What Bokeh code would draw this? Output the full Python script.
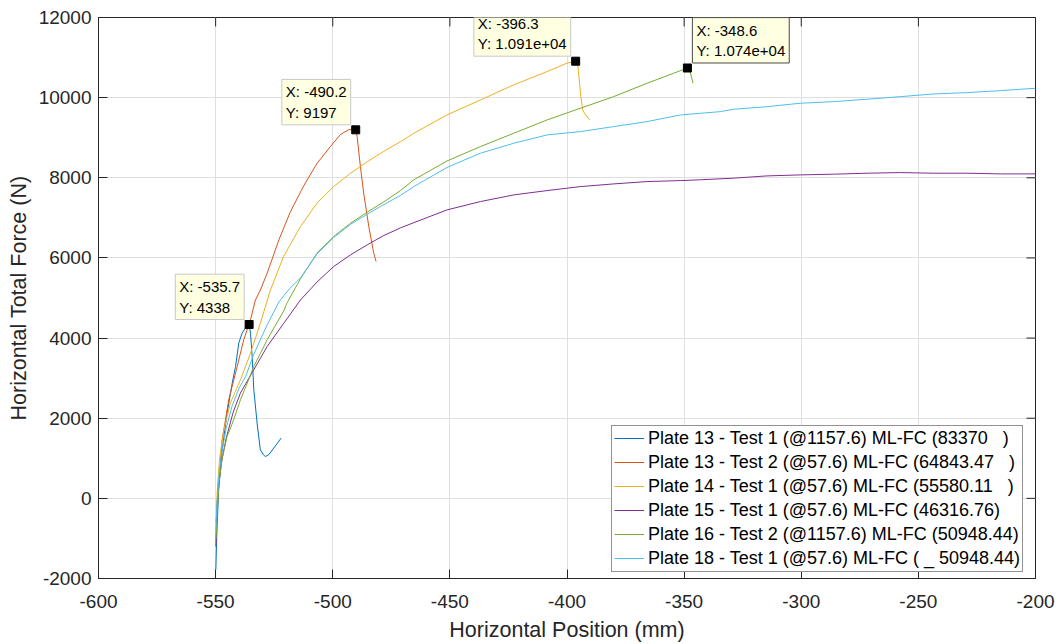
from bokeh.plotting import figure
from bokeh.models import Range1d, SingleIntervalTicker, Legend, LegendItem, Label
from bokeh.embed import file_html
from bokeh.resources import INLINE

FONT = "Liberation Sans"

# ---- data ----
series_names = [
    "Plate 13 - Test 1 (@1157.6) ML-FC (83370   )",
    "Plate 13 - Test 2 (@57.6) ML-FC (64843.47   )",
    "Plate 14 - Test 1 (@57.6) ML-FC (55580.11   )",
    "Plate 15 - Test 1 (@57.6) ML-FC (46316.76)",
    "Plate 16 - Test 2 (@1157.6) ML-FC (50948.44)",
    "Plate 18 - Test 1 (@57.6) ML-FC ( _ 50948.44)",
]
series_colors = ["#0072BD", "#D95319", "#EDB120", "#7E2F8E", "#77AC30", "#4DBEEE"]

p13t1_x = [-549.9, -549.6, -549.3, -548.7, -547.2, -545.1, -542.9, -541.5, -540.1, -538.7,
           -537.2, -535.7, -535.1, -534.4, -533.7, -532.3, -530.9, -529.5, -528.7, -527.3,
           -525.2, -522.0]
p13t1_y = [-1780, -1100, -610, 220, 1210, 2130, 2880, 3290, 3880, 4120,
           4260, 4338, 4120, 3540, 2710, 1880, 1210, 1080, 1045, 1090,
           1255, 1505]

p13t2_x = [-549.8, -549.3, -548.7, -547.2, -544.4, -540.8, -538.0, -535.1, -533.0, -530.9,
           -528.0, -523.0, -518.1, -512.4, -506.7, -501.0, -496.7, -493.2, -490.2, -489.6,
           -488.2, -486.8, -484.6, -482.5, -481.5]
p13t2_y = [-600, -100, 380, 1460, 2460, 3290, 3960, 4460, 4950, 5200,
           5620, 6450, 7150, 7800, 8360, 8780, 9080, 9200, 9197, 9030,
           8280, 7620, 6780, 6120, 5910]

p14t1_x = [-549.7, -549.2, -548.3, -546.5, -543.7, -539.4, -535.1, -530.9, -526.6, -521.0,
           -513.8, -506.7, -499.6, -492.4, -485.3, -478.2, -471.1, -465.4, -451.2, -437.0,
           -422.7, -408.5, -400.0, -396.3, -395.3, -394.1, -393.3, -392.1, -390.3]
p14t1_y = [-400, 300, 1000, 1710, 2380, 2960, 3625, 4370, 5200, 6035,
           6780, 7370, 7780, 8115, 8400, 8660, 8900, 9110, 9570, 9940,
           10320, 10650, 10860, 10910, 10770, 10025, 9690, 9570, 9445]

p15t1_x = [-549.9, -549.5, -548.8, -547.5, -545.5, -542.5, -539.4, -533.7, -528.0, -520.9,
           -513.8, -509.5, -506.7, -499.6, -492.4, -485.3, -478.2, -471.1, -465.4, -451.2,
           -437.0, -422.7, -408.5, -394.3, -380.1, -365.8, -351.6, -343.1, -328.9, -314.6,
           -300.4, -286.2, -271.9, -257.7, -243.5, -229.2, -215.0, -200.0]
p15t1_y = [-1200, -400, 300, 900, 1500, 2150, 2630, 3210, 3790, 4370,
           4950, 5220, 5400, 5786, 6077, 6326, 6560, 6750, 6880, 7199,
           7406, 7573, 7681, 7780, 7847, 7905, 7930, 7950, 7990, 8047,
           8072, 8090, 8114, 8130, 8114, 8114, 8097, 8097]

p16t2_x = [-549.8, -549.3, -548.5, -547.2, -545.1, -542.3, -539.4, -536.5, -533.7, -528.0,
           -520.9, -519.5, -515.2, -513.8, -506.7, -499.6, -492.4, -485.3, -478.2, -471.1,
           -465.4, -451.2, -437.0, -422.7, -408.5, -394.3, -380.1, -365.8, -354.5, -348.6,
           -347.6, -346.2]
p16t2_y = [-1000, -300, 400, 1000, 1545, 1960, 2460, 2876, 3292, 3957,
           4680, 4880, 5330, 5480, 6120, 6534, 6867, 7140, 7400, 7680,
           7950, 8420, 8778, 9112, 9444, 9735, 10025, 10359, 10608, 10740,
           10690, 10359]

p18t1_x = [-549.9, -549.4, -548.7, -547.5, -545.5, -543.0, -540.0, -537.2, -533.7, -528.0,
           -523.0, -518.5, -513.8, -506.7, -499.6, -492.4, -485.3, -479.6, -471.1, -465.4,
           -451.2, -437.0, -422.7, -408.5, -394.3, -380.1, -365.8, -351.6, -343.1, -334.5,
           -328.9, -314.6, -300.4, -286.2, -271.9, -257.7, -243.5, -229.2, -215.0, -200.0]
p18t1_y = [-800, -100, 500, 1100, 1750, 2300, 2750, 3040, 3600, 4330,
           4900, 5230, 5500, 6100, 6510, 6840, 7090, 7284, 7560, 7780,
           8260, 8612, 8862, 9070, 9152, 9277, 9402, 9568, 9610, 9651,
           9710, 9775, 9860, 9900, 9960, 10025, 10092, 10125, 10175, 10234]

series_x = [p13t1_x, p13t2_x, p14t1_x, p15t1_x, p16t2_x, p18t1_x]
series_y = [p13t1_y, p13t2_y, p14t1_y, p15t1_y, p16t2_y, p18t1_y]

tip_x = [-535.7, -490.2, -396.3, -348.6]
tip_y = [4338, 9197, 10910, 10740]
tip_text = ["X: -535.7\nY: 4338", "X: -490.2\nY: 9197",
            "X: -396.3\nY: 1.091e+04", "X: -348.6\nY: 1.074e+04"]

x_tick_values = [-600, -550, -500, -450, -400, -350, -300, -250, -200]
x_tick_labels = ["-600", "-550", "-500", "-450", "-400", "-350", "-300", "-250", "-200"]
y_tick_values = [-2000, 0, 2000, 4000, 6000, 8000, 10000, 12000]
y_tick_labels = ["-2000", "0", "2000", "4000", "6000", "8000", "10000", "12000"]

# ---- layout constants ----
W, H = 1062, 644
BL, BR, BT, BB = 98, 27, 17, 65
FRAME_W = W - BL - BR
FRAME_H = H - BT - BB
TICK_LEN = 9

p = figure(width=W, height=H,
           x_range=Range1d(-600, -200), y_range=Range1d(-2000, 12000),
           output_backend="svg", toolbar_location=None,
           min_border_left=BL, min_border_right=BR, min_border_top=BT, min_border_bottom=BB)
p.background_fill_color = "white"
p.border_fill_color = "white"

AX_COL = "#262626"
p.outline_line_color = AX_COL
p.outline_line_width = 1

xt = SingleIntervalTicker(interval=50)
yt = SingleIntervalTicker(interval=2000)

for ax, tk, vals, labs in ((p.xaxis[0], xt, x_tick_values, x_tick_labels),
                           (p.yaxis[0], yt, y_tick_values, y_tick_labels)):
    ax.ticker = tk
    ax.major_label_overrides = dict(zip(vals, labs))
    ax.axis_line_color = AX_COL
    ax.major_tick_line_color = AX_COL
    ax.major_tick_in = TICK_LEN
    ax.major_tick_out = 0
    ax.minor_tick_line_color = None
    ax.major_label_text_font = FONT
    ax.major_label_text_font_size = "19px"
    ax.major_label_text_color = AX_COL
    ax.axis_label_text_font = FONT
    ax.axis_label_text_font_size = "21.5px"
    ax.axis_label_text_font_style = "normal"
    ax.axis_label_text_color = AX_COL

p.xaxis[0].axis_label = "Horizontal Position (mm)"
p.yaxis[0].axis_label = "Horizontal Total Force (N)"
p.xaxis[0].major_label_standoff = 12
p.xaxis[0].axis_label_standoff = 7
p.yaxis[0].major_label_standoff = 3
p.yaxis[0].axis_label_standoff = 5

p.xgrid.grid_line_color = "#dfdfdf"
p.ygrid.grid_line_color = "#dfdfdf"

# inward tick marks on the top and right sides of the box (MATLAB "box on")
dx = (x_tick_values[-1] - x_tick_values[0]) / FRAME_W * TICK_LEN
dy = (y_tick_values[-1] - y_tick_values[0]) / FRAME_H * TICK_LEN
p.segment(x0=x_tick_values, y0=[y_tick_values[-1]] * len(x_tick_values),
          x1=x_tick_values, y1=[y_tick_values[-1] - dy] * len(x_tick_values),
          line_color=AX_COL, line_width=1)
p.segment(x0=[x_tick_values[-1]] * len(y_tick_values), y0=y_tick_values,
          x1=[x_tick_values[-1] - dx] * len(y_tick_values), y1=y_tick_values,
          line_color=AX_COL, line_width=1)

items = []
for name, col, xs, ys in zip(series_names, series_colors, series_x, series_y):
    r = p.line(xs, ys, line_color=col, line_width=1)
    items.append(LegendItem(label=name, renderers=[r]))

legend = Legend(items=items, location=(513, 6.5))
legend.label_text_font = FONT
legend.label_text_font_size = "18px"
legend.label_text_color = "black"
legend.glyph_width = 30
legend.glyph_height = 20
legend.label_height = 20
legend.spacing = 3
legend.padding = 2
legend.margin = 0
legend.label_standoff = 4
legend.border_line_color = AX_COL
legend.border_line_width = 1
legend.background_fill_color = "white"
legend.background_fill_alpha = 1
p.add_layout(legend)

p.scatter(tip_x, tip_y, marker="square", size=8, color="black")

anchors = ["bottom_right", "bottom_right", "bottom_right", "bottom_left"]
xoffs = [-5, -5, -5, 5]
borders = ["#c8c8c8", "#c8c8c8", "#c8c8c8", "#4a4a4a"]
for tx, ty, tt, an, xo, bc in zip(tip_x, tip_y, tip_text, anchors, xoffs, borders):
    lab = Label(x=tx, y=ty, text=tt, anchor=an, x_offset=xo, y_offset=5,
                text_font=FONT, text_font_size="15px", text_color="black",
                text_align="left", text_line_height=1.2,
                background_fill_color="#FFFFE1", background_fill_alpha=1,
                border_line_color=bc, border_line_width=1, padding=4)
    p.add_layout(lab)

open("out.html", "w").write(file_html(p, INLINE))
